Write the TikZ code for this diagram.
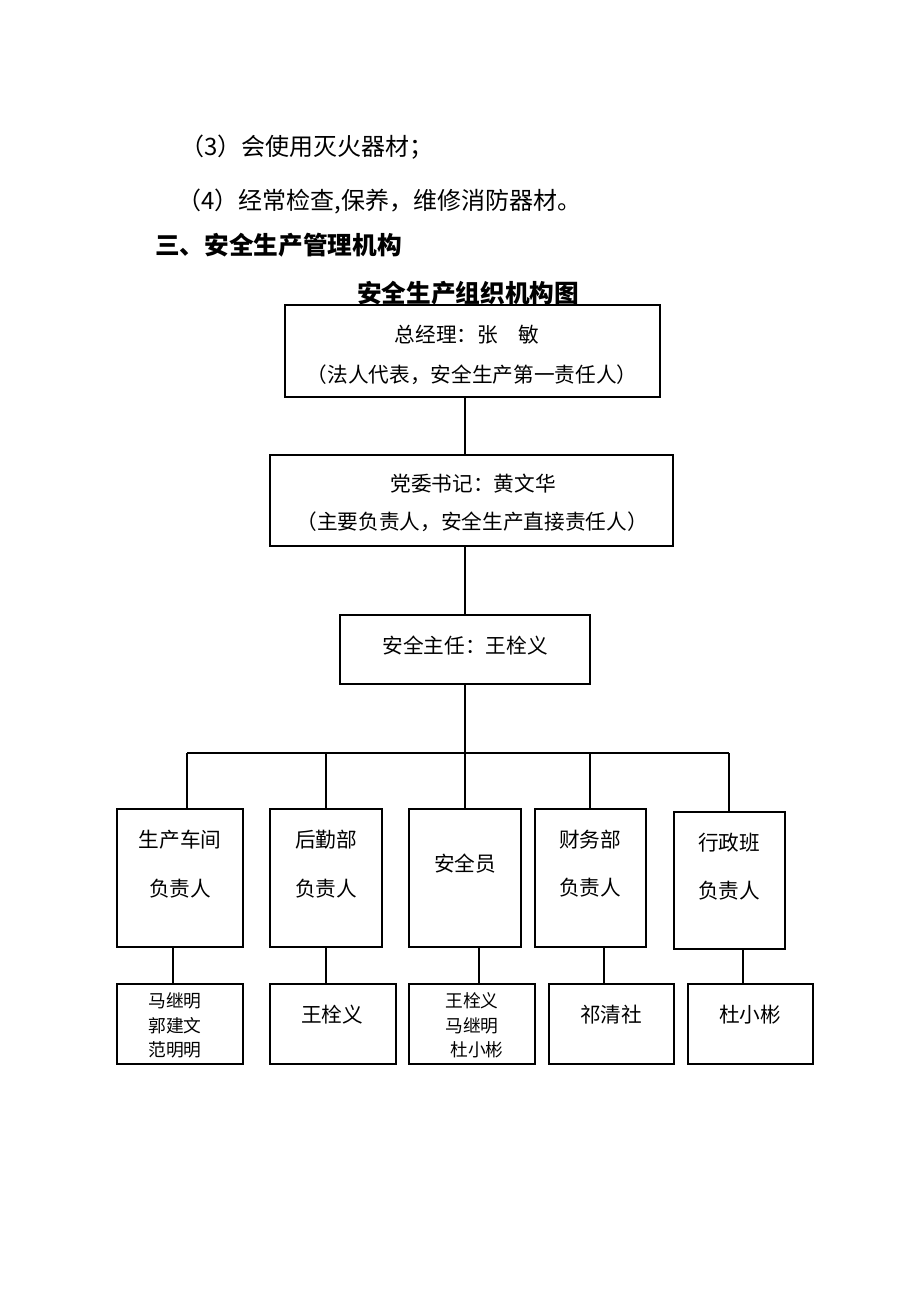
\documentclass[tikz,border=0pt]{standalone}
\usepackage{fontspec}
\setmainfont{Noto Sans CJK SC}
\usetikzlibrary{fit}
\begin{document}
\begin{tikzpicture}[x=0.75pt,y=-0.75pt,
  box/.style={draw, line width=0.9pt, inner sep=0pt},
  link/.style={draw, line width=0.9pt},
  body/.style={inner sep=0pt, anchor=west, font=\fontsize{18}{22}\selectfont},
  head/.style={inner sep=0pt, font=\fontsize{18.5}{22}\selectfont\bfseries},
  txt/.style={inner sep=0pt, font=\fontsize{15.5}{19}\selectfont},
  small/.style={inner sep=0pt, font=\fontsize{13.3}{16}\selectfont}]
\useasboundingbox[fill=white] (0,0) rectangle (920,1302);

% paragraph text
\node[body] (p3) at (180,147) {（3）会使用灭火器材；};
\node[body] (p4) at (177,202) {（4）经常检查,保养，维修消防器材。};
\node[head, anchor=west] (sec) at (155,245) {三、安全生产管理机构};
\node[head] (title) at (468,293) {安全生产组织机构图};

% main boxes
\node[box, fit={(285,305) (660,397)}] (gm) {};
\node[txt] at (467,335) {总经理：张\quad 敏};
\node[txt] at (472,375) {（法人代表，安全生产第一责任人）};

\node[box, fit={(270,455) (673,546)}] (sj) {};
\node[txt] at (473,484) {党委书记：黄文华};
\node[txt] at (472,522) {（主要负责人，安全生产直接责任人）};

\node[box, fit={(340,615) (590,684)}] (aq) {};
\node[txt] at (465,646) {安全主任：王栓义};

% department boxes
\node[box, fit={(117,809) (243,947)}] (b1) {};
\node[txt] at (180,840) {生产车间};
\node[txt] at (180,889) {负责人};

\node[box, fit={(270,809) (382,947)}] (b2) {};
\node[txt] at (326,840) {后勤部};
\node[txt] at (326,889) {负责人};

\node[box, fit={(409,809) (521,947)}] (b3) {};
\node[txt] at (465,864) {安全员};

\node[box, fit={(535,809) (646,947)}] (b4) {};
\node[txt] at (590,840) {财务部};
\node[txt] at (590,888) {负责人};

\node[box, fit={(674,812) (785,949)}] (b5) {};
\node[txt] at (729,843) {行政班};
\node[txt] at (729,891) {负责人};

% person boxes
\node[box, fit={(117,984) (243,1064)}] (l1) {};
\node[small] at (175,1001) {马继明};
\node[small] at (175,1026) {郭建文};
\node[small] at (175,1050) {范明明};

\node[box, fit={(270,984) (396,1064)}] (l2) {};
\node[txt] at (332,1015) {王栓义};

\node[box, fit={(409,984) (535,1064)}] (l3) {};
\node[small] at (472,1001) {王栓义};
\node[small] at (472,1026) {马继明};
\node[small] at (477,1050) {杜小彬};

\node[box, fit={(549,984) (674,1064)}] (l4) {};
\node[txt] at (611,1015) {祁清社};

\node[box, fit={(688,984) (813,1064)}] (l5) {};
\node[txt] at (750,1015) {杜小彬};

% connectors
\coordinate (j) at (465,753);
\coordinate (j1) at (187,753);
\coordinate (j2) at (326,753);
\coordinate (j4) at (590,753);
\coordinate (j5) at (729,753);
\draw[link] (gm.south -| j) -- (sj.north -| j);
\draw[link] (sj.south -| j) -- (aq.north -| j);
\draw[link] (aq.south -| j) -- (j);
\draw[link] (j1) -- (j5);
\draw[link] (j1) -- (j1 |- b1.north);
\draw[link] (j2) -- (j2 |- b2.north);
\draw[link] (j) -- (b3.north);
\draw[link] (j4) -- (j4 |- b4.north);
\draw[link] (j5) -- (j5 |- b5.north);

\draw[link] (b1.south -| 173,0) -- (l1.north -| 173,0);
\draw[link] (b2.south) -- (l2.north -| b2.south);
\draw[link] (b3.south -| 479,0) -- (l3.north -| 479,0);
\draw[link] (b4.south -| 604,0) -- (l4.north -| 604,0);
\draw[link] (b5.south -| 743,0) -- (l5.north -| 743,0);
\end{tikzpicture}
\end{document}
